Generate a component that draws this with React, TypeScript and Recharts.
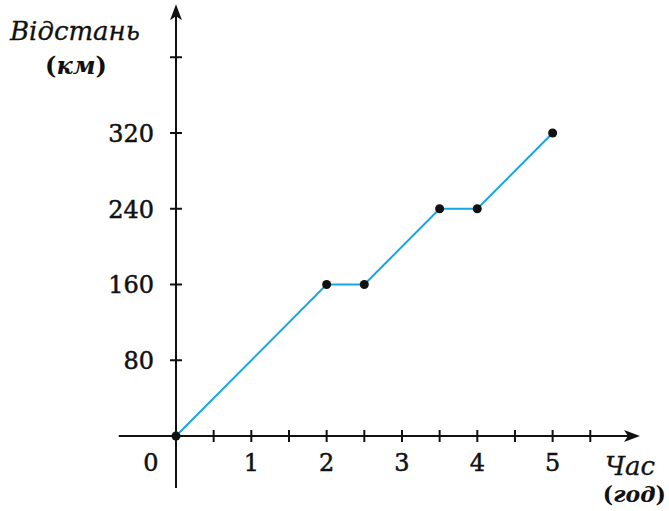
import { LineChart, Line, XAxis, YAxis, ReferenceLine } from "recharts";

const hours = [0, 2, 2.5, 3.5, 4, 5];
const distance = [0, 160, 160, 240, 240, 320];
const xTicks = [0, 0.5, 1, 1.5, 2, 2.5, 3, 3.5, 4, 4.5, 5, 5.5];
const xLabels = [0, 1, 2, 3, 4, 5];
const yTicks = [80, 160, 240, 320, 400];
const yLabels = [80, 160, 240, 320];

const data = hours.map((h, i) => ({ h, d: distance[i] }));

const FONT = "'DejaVu Serif', serif";
const INK = "#111";

function Arrow(props: any) {
  const { x1, y1, x2, y2 } = props;
  const horiz = Math.abs(y2 - y1) < 1;
  let head;
  if (horiz) {
    head = `M${x2},${y2} L${x2 - 16},${y2 - 6} L${x2 - 12},${y2} L${x2 - 16},${y2 + 6} Z`;
  } else {
    head = `M${x2},${y2} L${x2 - 6},${y2 + 16} L${x2},${y2 + 12} L${x2 + 6},${y2 + 16} Z`;
  }
  return (
    <g>
      <line x1={x1} y1={y1} x2={horiz ? x2 - 10 : x2} y2={horiz ? y2 : y2 + 10} stroke={INK} strokeWidth={2} />
      <path d={head} fill={INK} />
    </g>
  );
}

function XTick(props: any) {
  const { x, y, payload } = props;
  const v = payload.value;
  return (
    <g>
      {v !== 0 && <line x1={x} y1={y - 6} x2={x} y2={y + 6} stroke={INK} strokeWidth={2} />}
      {xLabels.includes(v) && (
        <text
          x={v === 0 ? x - 25 : x}
          y={y + 35}
          textAnchor="middle"
          fontFamily={FONT}
          fontSize={24}
          fill={INK}
          stroke={INK}
          strokeWidth={0.5}
        >
          {v}
        </text>
      )}
    </g>
  );
}

function YTick(props: any) {
  const { x, y, payload } = props;
  const v = payload.value;
  return (
    <g>
      <line x1={x - 6} y1={y} x2={x + 6} y2={y} stroke={INK} strokeWidth={2} />
      {yLabels.includes(v) && (
        <text
          x={x - 22}
          y={y + 9}
          textAnchor="end"
          fontFamily={FONT}
          fontSize={24}
          fill={INK}
          stroke={INK}
          strokeWidth={0.5}
        >
          {v}
        </text>
      )}
    </g>
  );
}

function Dot(props: any) {
  const { cx, cy } = props;
  return <circle cx={cx} cy={cy} r={4.5} fill={INK} />;
}

export default function App() {
  return (
    <div style={{ position: "absolute", left: 0, top: 0, width: 669, height: 511, background: "#fff" }}>
      <LineChart width={669} height={511} data={data} margin={{ top: 8, right: 29, left: 116, bottom: 15 }}>
        <XAxis
          dataKey="h"
          type="number"
          domain={[0, 6.16]}
          ticks={xTicks}
          interval={0}
          axisLine={false}
          tickLine={false}
          tickSize={0}
          tickMargin={0}
          height={60}
          tick={<XTick />}
        />
        <YAxis
          type="number"
          domain={[0, 452]}
          ticks={yTicks}
          interval={0}
          axisLine={false}
          tickLine={false}
          tickSize={0}
          tickMargin={0}
          width={60}
          tick={<YTick />}
        />
        <ReferenceLine
          segment={[{ x: -0.76, y: 0 }, { x: 6.16, y: 0 }]}
          ifOverflow="visible"
          shape={<Arrow />}
        />
        <ReferenceLine
          segment={[{ x: 0, y: -55 }, { x: 0, y: 456 }]}
          ifOverflow="visible"
          shape={<Arrow />}
        />
        <Line
          dataKey="d"
          stroke="#17a6e3"
          strokeWidth={2}
          dot={<Dot />}
          activeDot={false}
          isAnimationActive={false}
        />
        <text x={10} y={40} fontFamily={FONT} fontStyle="italic" fontSize={26} fill={INK} stroke={INK} strokeWidth={0.3}>
          Відстань
        </text>
        <text x={76} y={74} textAnchor="middle" fontFamily={FONT} fontSize={24} fontWeight="bold" fill={INK}>
          <tspan>(</tspan>
          <tspan fontStyle="italic">км</tspan>
          <tspan>)</tspan>
        </text>
        <text x={605} y={475} fontFamily={FONT} fontStyle="italic" fontSize={26} fill={INK} stroke={INK} strokeWidth={0.3}>
          Час
        </text>
        <text x={666} y={502} textAnchor="end" fontFamily={FONT} fontSize={22} fontWeight="bold" fill={INK}>
          <tspan>(</tspan>
          <tspan fontStyle="italic">год</tspan>
          <tspan>)</tspan>
        </text>
      </LineChart>
    </div>
  );
}
